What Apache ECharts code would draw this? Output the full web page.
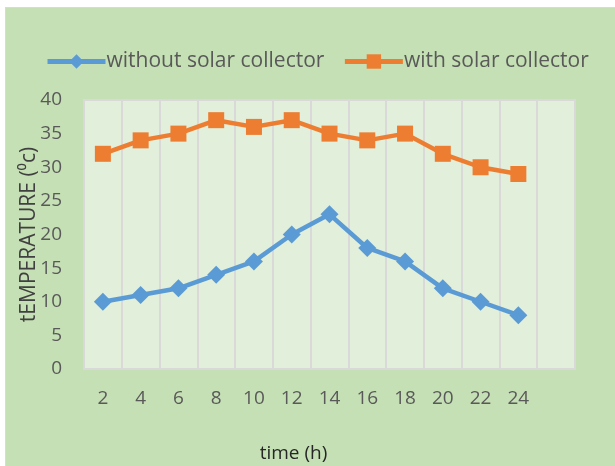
<!DOCTYPE html>
<html><head><meta charset="utf-8">
<script src="https://cdn.jsdelivr.net/npm/echarts@6/dist/echarts.min.js"></script>
<style>
html,body{margin:0;padding:0;background:#fff;width:615px;height:466px;overflow:hidden}
#bg{position:absolute;left:5px;top:7px;width:610px;height:459px;background:#c5e0b4;border-left:1px solid #d9d9d9;border-top:1px solid #d9d9d9}
#c{position:absolute;left:0;top:0;width:615px;height:466px}
</style></head>
<body><div id="bg"></div><div id="c"></div>
<script>
var hours = ['2','4','6','8','10','12','14','16','18','20','22','24',''];
var withoutCollector = [10,11,12,14,16,20,23,18,16,12,10,8];
var withCollector = [32,34,35,37,36,37,35,34,35,32,30,29];
var yTicks = {min:0, max:40, interval:5};

var chart = echarts.init(document.getElementById('c'));
var font = 'Open Sans';
chart.setOption({
  backgroundColor: 'transparent',
  animation: false,
  legend: {
    left: 40, top: 46,
    itemWidth: 58, itemHeight: 18, itemGap: 18,
    lineStyle: {width: 5},
    textStyle: {color:'#595959', fontSize:21, fontFamily:font, padding:[0,0,0,-4]},
    data: ['without solar collector','with solar collector']
  },
  grid: {left:84, right:40, top:100, bottom:97, outerBoundsMode:'none', containLabel:false,
         show:true, backgroundColor:'#e2efda', borderColor:'#d9d9d9', borderWidth:2},
  xAxis: {
    type:'category', data:hours, boundaryGap:true,
    axisLine:{show:false}, axisTick:{show:false},
    axisLabel:{color:'#595959', fontSize:19, fontFamily:font, margin:20, interval:0},
    splitLine:{show:true, interval:0, lineStyle:{color:'#d9d9d9', width:2}},
    name:'time (h)', nameLocation:'middle', nameGap:75,
    nameTextStyle:{color:'#262626', fontSize:19, fontFamily:font, padding:[0,72,0,0]}
  },
  yAxis: {
    type:'value', min:yTicks.min, max:yTicks.max, interval:yTicks.interval,
    axisLine:{show:false}, axisTick:{show:false}, splitLine:{show:false},
    axisLabel:{color:'#595959', fontSize:19, fontFamily:font, margin:22},
    name:'tEMPERATURE (\u2070c)', nameLocation:'middle', nameGap:44, nameRotate:90, nameMoveOverlap:false,
    nameTextStyle:{color:'#404040', fontSize:21, fontFamily:font}
  },
  series: [
    {name:'without solar collector', type:'line', data:withoutCollector, symbol:'diamond', symbolSize:18,
     itemStyle:{color:'#5b9bd5'}, lineStyle:{width:4.5, color:'#5b9bd5'}},
    {name:'with solar collector', type:'line', data:withCollector, symbol:'rect', symbolSize:16,
     itemStyle:{color:'#ed7d31'}, lineStyle:{width:4.5, color:'#ed7d31'}}
  ]
});
</script></body></html>
